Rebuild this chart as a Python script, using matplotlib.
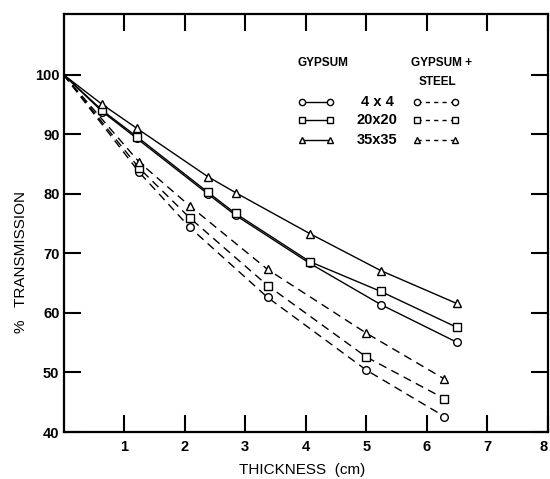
import matplotlib
matplotlib.use("Agg")
import matplotlib.pyplot as plt

plt.rcParams["font.family"] = ["Liberation Sans", "DejaVu Sans"]
plt.rcParams["font.weight"] = "bold"

# thickness (cm)
x_gypsum = [0, 0.64, 1.21, 2.38, 2.84, 4.07, 5.24, 6.49]
x_steel = [0, 1.25, 2.08, 3.37, 5.0, 6.29]

# % transmission, gypsum only
gyp_4 = [100, 93.8, 89.3, 80.0, 76.4, 68.3, 61.4, 55.1]
gyp_20 = [100, 94.0, 89.6, 80.3, 76.7, 68.6, 63.6, 57.6]
gyp_35 = [100, 95.0, 91.0, 82.9, 80.2, 73.3, 67.1, 61.6]

# % transmission, gypsum + steel
stl_4 = [100, 83.6, 74.4, 62.6, 50.4, 42.6]
stl_20 = [100, 84.3, 76.0, 64.6, 52.6, 45.6]
stl_35 = [100, 85.3, 78.0, 67.3, 56.6, 48.9]

fields = ["4 x 4", "20x20", "35x35"]
markers = ["o", "s", "^"]

fig = plt.figure(figsize=(5.5, 4.79), dpi=100)
ax = fig.add_axes([0.1156, 0.0981, 0.8807, 0.8727])

mk = dict(markersize=5.5, markerfacecolor="white", markeredgecolor="black",
          markeredgewidth=1.0, color="black")
dash = (0, (6, 4))

for ys, m in zip([gyp_4, gyp_20, gyp_35], markers):
    ax.plot(x_gypsum, ys, marker=m, linestyle="-", linewidth=1.0,
            markevery=list(range(1, len(ys))), **mk)
for ys, m in zip([stl_4, stl_20, stl_35], markers):
    ax.plot(x_steel, ys, marker=m, linestyle=dash, linewidth=1.0,
            markevery=list(range(1, len(ys))), **mk)

# hand-drawn style legend block
tr = ax.transAxes
ax.text(0.536, 0.883, "GYPSUM", transform=tr, ha="center", va="center", fontsize=8.5)
ax.text(0.780, 0.883, "GYPSUM +", transform=tr, ha="center", va="center", fontsize=8.5)
ax.text(0.772, 0.837, "STEEL", transform=tr, ha="center", va="center", fontsize=8.5)
row_y = [0.790, 0.746, 0.699]
for name, m, yy in zip(fields, markers, row_y):
    ax.plot([0.4915, 0.550], [yy, yy], transform=tr, marker=m, linestyle="-",
            linewidth=1.0, clip_on=False, **dict(mk, markersize=4.5))
    ax.text(0.647, yy, name, transform=tr, ha="center", va="center", fontsize=10.5)
    ax.plot([0.729, 0.808], [yy, yy], transform=tr, marker=m, linestyle=(0, (3, 3)),
            linewidth=1.0, clip_on=False, **dict(mk, markersize=4.5))

ax.set_xlim(0, 8)
ax.set_ylim(40, 110.2)
ax.set_xticks([1, 2, 3, 4, 5, 6, 7, 8])
ax.set_yticks([40, 50, 60, 70, 80, 90, 100])
ax.tick_params(direction="in", length=12, width=1.5, top=True, right=True,
               labelsize=10.5, pad=3)
ax.tick_params(axis="x", pad=6)
for s in ax.spines.values():
    s.set_linewidth(1.6)
# last x label sits at the picture edge; keep it inside
ax.xaxis.get_major_ticks()[-1].label1.set_horizontalalignment("right")

ax.set_xlabel("THICKNESS  (cm)", fontsize=11)
ax.set_ylabel("%   TRANSMISSION", fontsize=11)
ax.xaxis.set_label_coords(0.492, -0.074)
ax.yaxis.set_label_coords(-0.073, 0.407)

fig.savefig("out.png", dpi=100)
